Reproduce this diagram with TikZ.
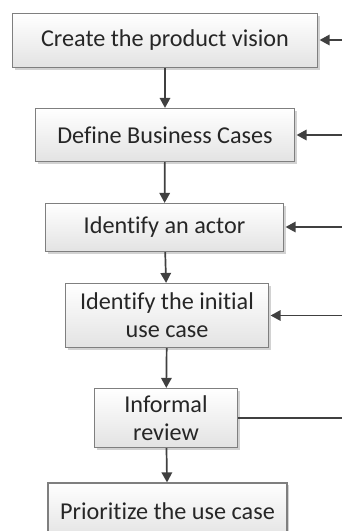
\documentclass[tikz,border=0pt]{standalone}
\usepackage{fontspec}
\setmainfont{Carlito}[Ligatures=NoCommon]
\usetikzlibrary{arrows.meta,shadows}
\definecolor{linegray}{HTML}{404040}
\definecolor{boxgray}{HTML}{7F7F7F}
\definecolor{textgray}{HTML}{262626}
\tikzset{
  stepbox/.style={draw=boxgray, line width=1.2pt, top color=white, bottom color=black!11,
    drop shadow={shadow xshift=2pt, shadow yshift=-2pt, fill=black!35, opacity=0.5},
    inner sep=0pt, align=center, text=textgray,
    font=\fontsize{24.2}{28}\selectfont},
  flow/.style={draw=linegray, line width=1.7pt, -{Triangle[length=10pt,width=10.5pt]}}
}
\begin{document}
\begin{tikzpicture}[x=1pt,y=-1pt]
      \clip (0,0) rectangle (342,531);
      \node[stepbox, minimum width=305pt, minimum height=54pt] (vision) at (165,40.5) {Create the product vision};
      \node[stepbox, minimum width=259pt, minimum height=53pt] (business) at (165,135) {Define Business Cases};
      \node[stepbox, minimum width=238pt, minimum height=48pt] (actor) at (164.5,227.5) {Identify an actor};
      \node[stepbox, minimum width=203pt, minimum height=64pt] (usecase) at (167,315.5) {Identify the initial\\use case};
      \node[stepbox, minimum width=143pt, minimum height=59pt] (review) at (166,418) {Informal\\review};
      \node[stepbox, minimum width=239pt, minimum height=56pt] (prioritize) at (167.5,511) {Prioritize the use case};
      \coordinate (in1) at (342,40);
      \coordinate (in2) at (342,135);
      \coordinate (in3) at (342,227);
      \coordinate (in4) at (342,315.5);
      \coordinate (out5) at (342,418);
      \begin{scope}[flow]
        \draw (vision) -- (business);
        \draw (business) -- (actor);
        \draw (actor) -- (usecase);
        \draw (usecase) -- (review);
        \draw (review) -- (prioritize);
        \draw[shorten >=1.5pt] (in1) -- (in1 -| vision.east);
        \draw[shorten >=1.5pt] (in2) -- (in2 -| business.east);
        \draw[shorten >=1.5pt] (in3) -- (in3 -| actor.east);
        \draw[shorten >=1.5pt] (in4) -- (in4 -| usecase.east);
        \draw[-] (review) -- (out5);
      \end{scope}
    \end{tikzpicture}
\end{document}
